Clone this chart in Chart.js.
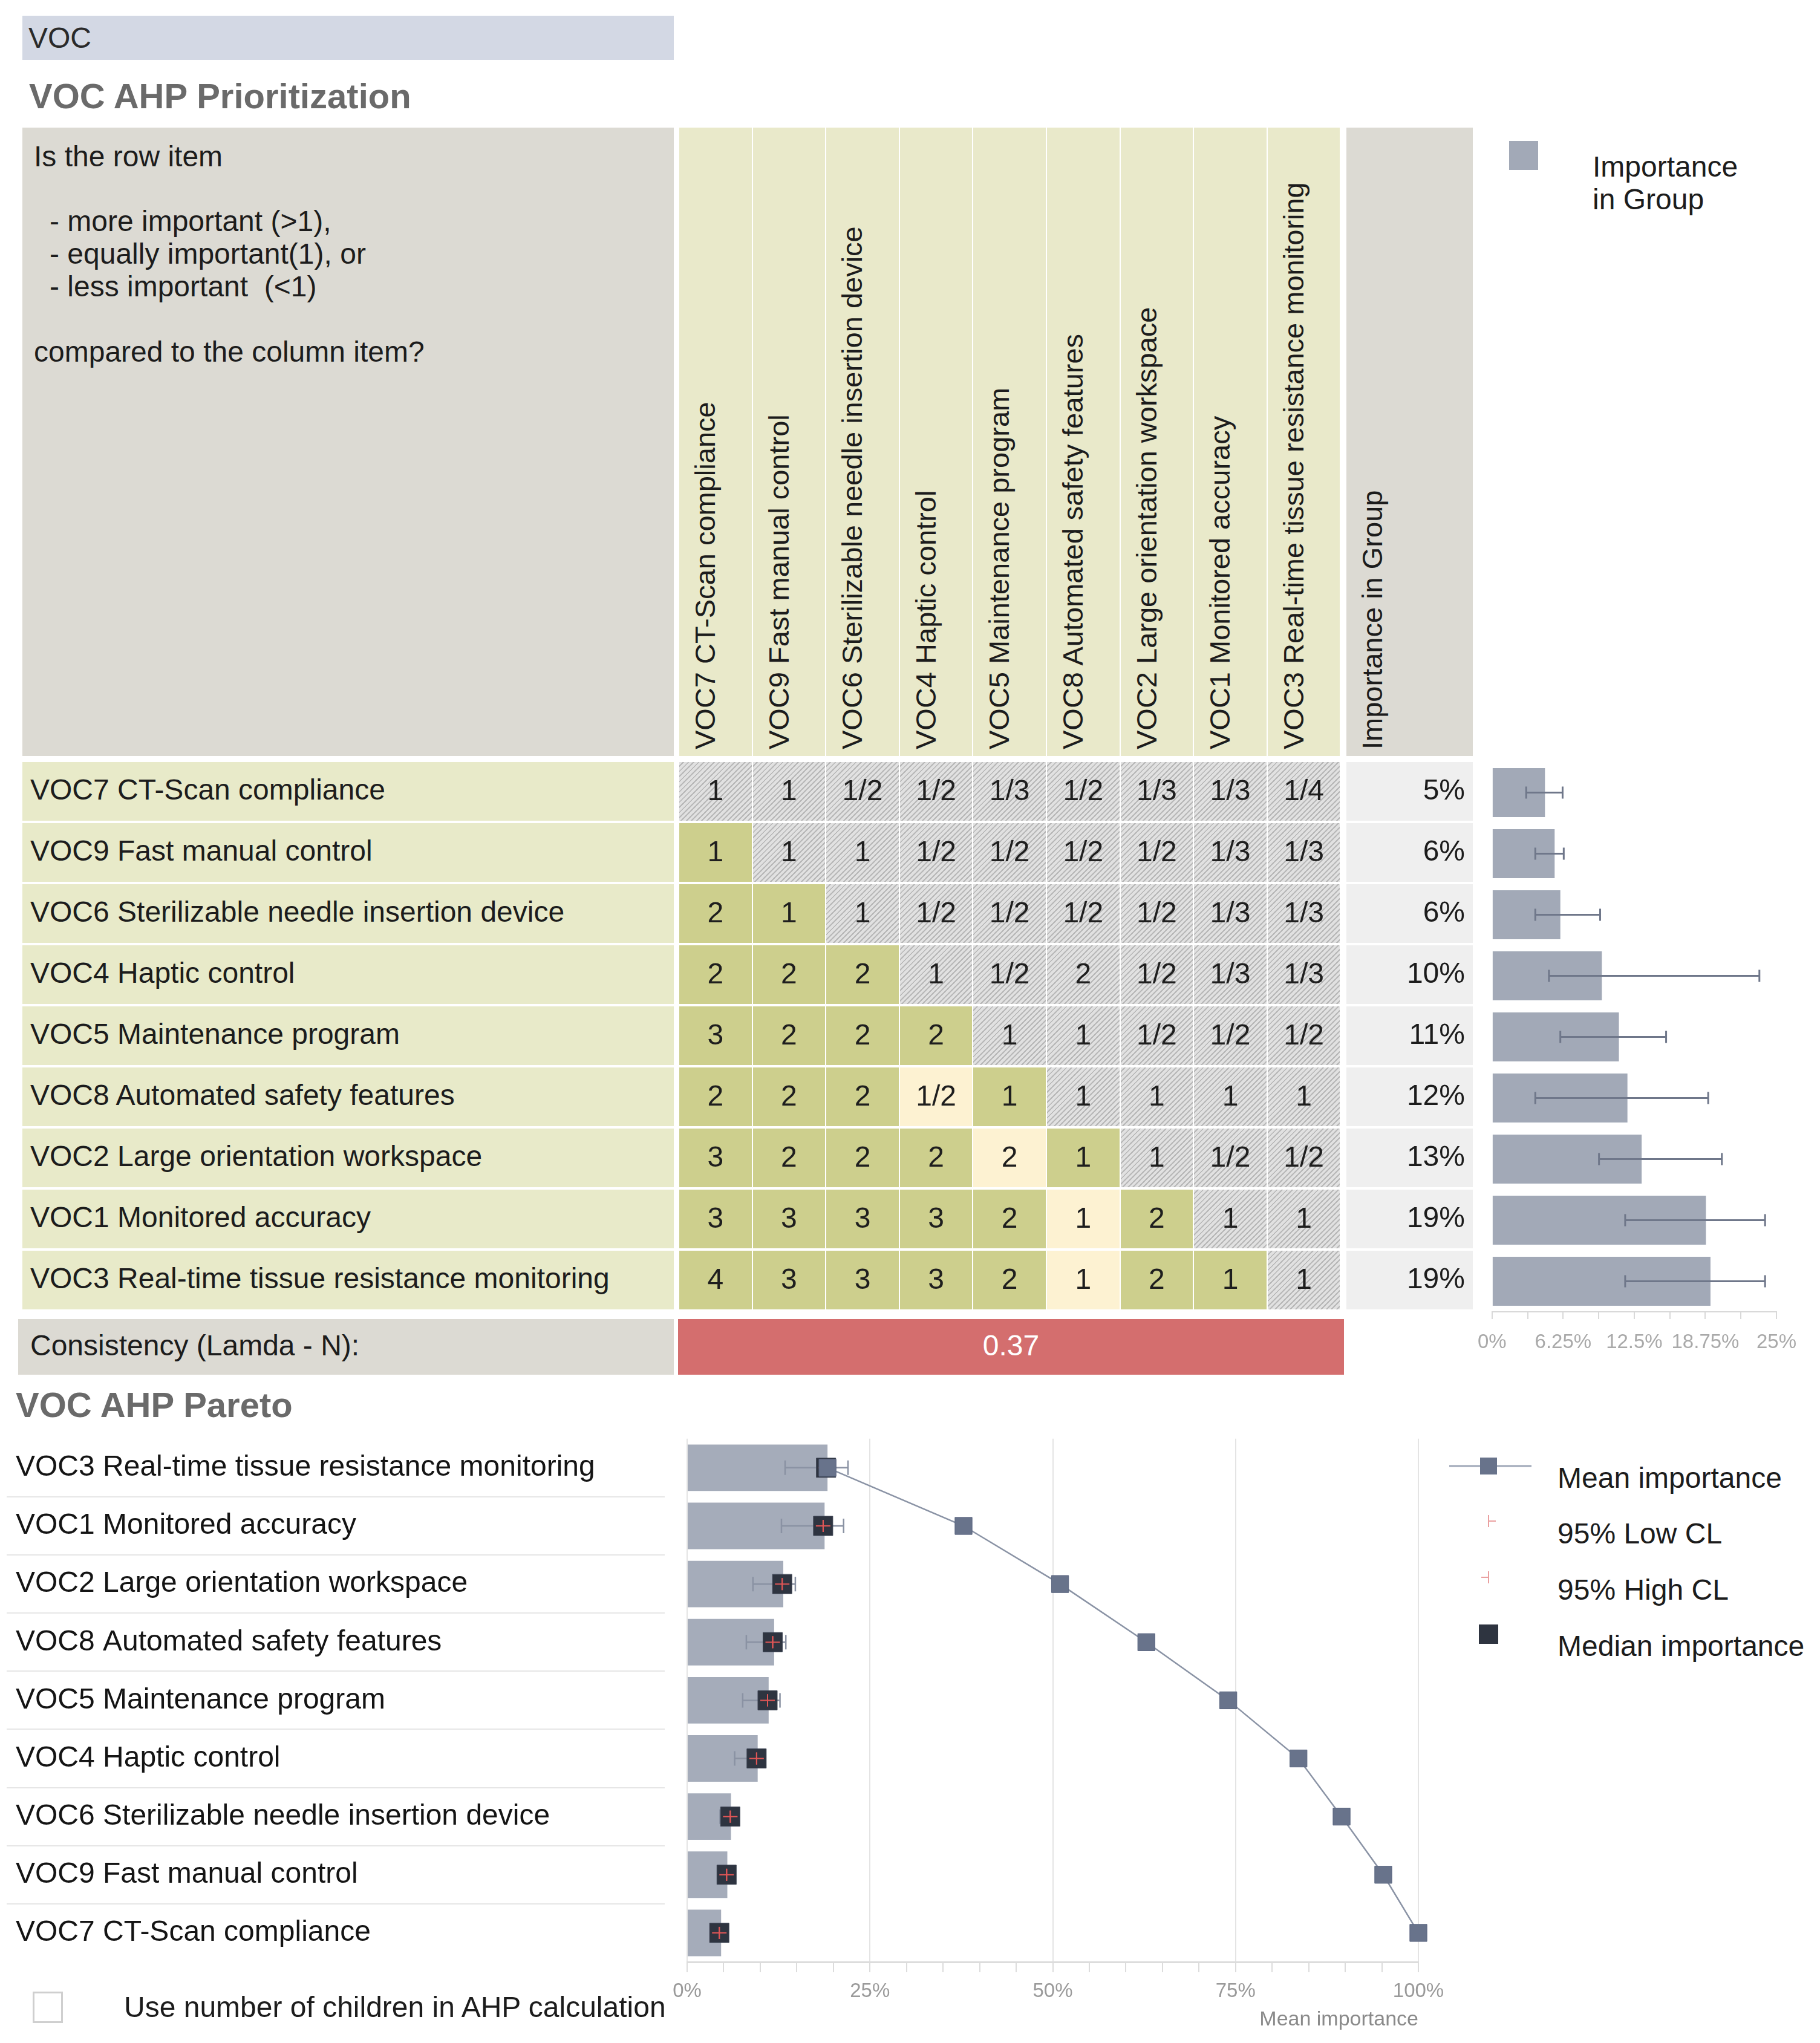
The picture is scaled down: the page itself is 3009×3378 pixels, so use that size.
<!DOCTYPE html>
<html>
<head>
<meta charset="utf-8">
<title>VOC AHP</title>
<script src="https://cdn.jsdelivr.net/npm/chart.js@4.4.1/dist/chart.umd.min.js"></script>
<style>
html, body { margin: 0; padding: 0; background: #fff; }
#page { position: relative; width: 3009px; height: 3378px; overflow: hidden;
  font-family: "Liberation Sans", Arial, Helvetica, sans-serif; font-size: 48px; color: #1c1c1c; }
#page div, #page canvas, #page svg { position: absolute; }
#vocBar { left: 37px; top: 26px; width: 1077px; height: 73px; background: #d3d8e4;
  line-height: 73px; padding-left: 10px; box-sizing: border-box; color: #2a2a2a; }
.title { font-weight: bold; font-size: 58px; line-height: 64px; color: #6a6a6a; white-space: nowrap; }
#question { left: 37px; top: 211px; width: 1077px; height: 1039px; background: #dcdad3; }
.q { line-height: 52px; white-space: nowrap; }
.colhead { top: 211px; height: 1039px; background: #e9e9ca; }
#impHead { left: 2226px; top: 211px; width: 209px; height: 1039px; background: #dcdad3; }
.rot { left: 18px; top: 1028px; transform-origin: 0 0; transform: rotate(-90deg);
  white-space: nowrap; line-height: 50px; font-size: 47px; }
.rowlabel { left: 37px; width: 1077px; height: 97px; line-height: 92px; background: #e8eac9;
  padding-left: 13px; box-sizing: border-box; white-space: nowrap; }
.cell { width: 119.6px; height: 97px; line-height: 94px; text-align: center; color: #1e1e1e; }
.hatch { background: repeating-linear-gradient(135deg, #e1e1e1 0px, #e1e1e1 4px, #b8b8b8 4px, #b8b8b8 6px); }
.green { background: #cdcf8d; }
.cream { background: #fdf2d2; }
.pct { left: 2226px; width: 209px; height: 97px; line-height: 92px; background: #efefef;
  text-align: right; padding-right: 13px; box-sizing: border-box; }
#consLabel { left: 30px; top: 2181px; width: 1084px; height: 92px; line-height: 88px; background: #dcdad3;
  padding-left: 20px; box-sizing: border-box; }
#consValue { left: 1121px; top: 2181px; width: 1101px; height: 92px; line-height: 88px; background: #d46e6e;
  color: #fff; text-align: center; }
#impLegendBox { left: 2495px; top: 233px; width: 48px; height: 48px; background: #a2a9b7; }
#impLegendText { left: 2633px; top: 249px; line-height: 54px; }
.leg { left: 2575px; line-height: 56px; white-space: nowrap; }
#checkbox { left: 54px; top: 3293px; width: 50px; height: 52px; border: 3px solid #cfcfcf;
  background: #fff; box-sizing: border-box; }
#checkText { left: 205px; top: 3291px; line-height: 56px; white-space: nowrap; }
#importanceChart { left: 2424px; top: 1260px; }
#paretoChart { left: 0px; top: 2350px; }
</style>
</head>
<body>
<div id="page">
  <div id="vocBar">VOC</div>
  <div class="title" style="left:48px; top:127px;">VOC AHP Prioritization</div>
  <div id="question">
    <div class="q" style="left:19px; top:22px;">Is the row item</div>
    <div class="q" style="left:45px; top:129px;">- more important (&gt;1),</div>
    <div class="q" style="left:45px; top:183px;">- equally important(1), or</div>
    <div class="q" style="left:45px; top:237px;">- less important &nbsp;(&lt;1)</div>
    <div class="q" style="left:19px; top:345px;">compared to the column item?</div>
  </div>
  <div id="impHead"><div class="rot">Importance in Group</div></div>
  <div id="consLabel">Consistency (Lamda - N):</div>
  <div id="consValue"></div>
  <div id="impLegendBox"></div>
  <div id="impLegendText">Importance<br>in Group</div>
  <canvas id="importanceChart" width="585" height="999"></canvas>

  <div class="title" style="left:26px; top:2291px;">VOC AHP Pareto</div>
  <canvas id="paretoChart" width="2400" height="1014"></canvas>
  <svg style="left:2390px; top:2390px;" width="160" height="360">
    <line x1="6" y1="34" x2="142" y2="34" stroke="#a0a8b8" stroke-width="3"/>
    <rect x="57" y="20" width="28" height="28" fill="#68738b"/>
    <line x1="71" y1="115" x2="71" y2="135" stroke="#eaa0a0" stroke-width="2"/>
    <line x1="71" y1="125" x2="83" y2="125" stroke="#eaa0a0" stroke-width="2"/>
    <line x1="71" y1="208" x2="71" y2="228" stroke="#eaa0a0" stroke-width="2"/>
    <line x1="59" y1="218" x2="71" y2="218" stroke="#eaa0a0" stroke-width="2"/>
    <rect x="55" y="296" width="32" height="32" fill="#2e3440"/>
  </svg>
  <div class="leg" style="top:2416px;">Mean importance</div>
  <div class="leg" style="top:2508px;">95% Low CL</div>
  <div class="leg" style="top:2601px;">95% High CL</div>
  <div class="leg" style="top:2694px;">Median importance</div>
  <div id="checkbox"></div>
  <div id="checkText">Use number of children in AHP calculation</div>
</div>

<script>
const vocs = [
    "VOC7 CT-Scan compliance",
    "VOC9 Fast manual control",
    "VOC6 Sterilizable needle insertion device",
    "VOC4 Haptic control",
    "VOC5 Maintenance program",
    "VOC8 Automated safety features",
    "VOC2 Large orientation workspace",
    "VOC1 Monitored accuracy",
    "VOC3 Real-time tissue resistance monitoring",
];

// row item compared to column item
const comparisons = [
    ["1", "1", "1/2", "1/2", "1/3", "1/2", "1/3", "1/3", "1/4"],
    ["1", "1", "1", "1/2", "1/2", "1/2", "1/2", "1/3", "1/3"],
    ["2", "1", "1", "1/2", "1/2", "1/2", "1/2", "1/3", "1/3"],
    ["2", "2", "2", "1", "1/2", "2", "1/2", "1/3", "1/3"],
    ["3", "2", "2", "2", "1", "1", "1/2", "1/2", "1/2"],
    ["2", "2", "2", "1/2", "1", "1", "1", "1", "1"],
    ["3", "2", "2", "2", "2", "1", "1", "1/2", "1/2"],
    ["3", "3", "3", "3", "2", "1", "2", "1", "1"],
    ["4", "3", "3", "3", "2", "1", "2", "1", "1"],
];

// [row, column] of the pale cells
const flaggedCells = [[5, 3], [6, 4], [7, 5], [8, 5]];

const consistency = 0.37;

// importance in group, same order as vocs (percent)
const importance = [4.65, 5.5, 6.0, 9.65, 11.15, 11.9, 13.15, 18.8, 19.2];
const rangeLow = [3.0, 3.8, 3.8, 5.0, 6.0, 3.8, 9.4, 11.7, 11.7];
const rangeHigh = [6.2, 6.3, 9.5, 23.5, 15.3, 19.0, 20.2, 24.0, 24.0];
const importanceTicks = [0, 6.25, 12.5, 18.75, 25];

// pareto, highest first
const paretoLabels = vocs.slice().reverse();
const paretoMean = [19.2, 18.8, 13.15, 11.9, 11.15, 9.65, 6.0, 5.5, 4.65];
const paretoCumulative = [19.2, 37.8, 51.0, 62.8, 74.0, 83.6, 89.5, 95.2, 100];
const paretoMedian = [19.0, 18.6, 13.0, 11.7, 11.0, 9.5, 5.9, 5.4, 4.4];
const lowCL = [19.0, 18.6, 13.0, 11.7, 11.0, 9.5, 5.9, 5.4, 4.4];
const highCL = [19.0, 18.6, 13.0, 11.7, 11.0, 9.5, 5.9, 5.4, 4.4];
const whiskerLow = [13.4, 12.9, 9.0, 8.1, 7.6, 6.5, 4.5, 4.6, 3.7];
const whiskerHigh = [22.0, 21.4, 14.8, 13.5, 12.7, 10.3, 6.4, 6.1, 5.1];
const paretoTicks = [0, 25, 50, 75, 100];

Chart.defaults.font.family = '"Liberation Sans", Arial, Helvetica, sans-serif';

// ---- matrix table ----
const page = document.getElementById("page");
const gridLeft = 1123, colStep = 121.6, rowTop = 1260, rowStep = 101;

function box(cls, left, top, text) {
    const d = document.createElement("div");
    d.className = cls;
    if (left !== null) d.style.left = left + "px";
    if (top !== null) d.style.top = top + "px";
    if (text !== undefined) d.textContent = text;
    page.appendChild(d);
    return d;
}

vocs.forEach((name, c) => {
    const h = box("colhead", gridLeft + c * colStep, null);
    h.style.width = "119.6px";
    const t = document.createElement("div");
    t.className = "rot";
    t.textContent = name;
    h.appendChild(t);
});

const isFlagged = (r, c) => flaggedCells.some(p => p[0] === r && p[1] === c);

comparisons.forEach((row, r) => {
    const top = rowTop + r * rowStep;
    box("rowlabel", null, top, vocs[r]);
    row.forEach((val, c) => {
        const kind = c >= r ? "hatch" : (isFlagged(r, c) ? "cream" : "green");
        box("cell " + kind, gridLeft + c * colStep, top, val);
    });
    box("pct", null, top, Math.round(importance[r]) + "%");
});

document.getElementById("consValue").textContent = consistency.toFixed(2);

// ---- error bar helper ----
function whiskers(datasetIndex, low, high, color, width, cap) {
    return {
        id: "whiskers" + datasetIndex,
        afterDatasetDraw(chart, args) {
            if (args.index !== datasetIndex) return;
            const {ctx, scales: {x, y}} = chart;
            ctx.save();
            ctx.strokeStyle = color;
            ctx.lineWidth = width;
            low.forEach((lo, i) => {
                const py = y.getPixelForValue(i);
                const x1 = x.getPixelForValue(lo);
                const x2 = x.getPixelForValue(high[i]);
                ctx.beginPath();
                ctx.moveTo(x1, py); ctx.lineTo(x2, py);
                ctx.moveTo(x1, py - cap); ctx.lineTo(x1, py + cap);
                ctx.moveTo(x2, py - cap); ctx.lineTo(x2, py + cap);
                ctx.stroke();
            });
            ctx.restore();
        }
    };
}

// ---- importance in group ----
new Chart(document.getElementById("importanceChart").getContext("2d"), {
    type: "bar",
    data: {
        labels: vocs,
        datasets: [{
            data: importance,
            backgroundColor: "#a2a9b7",
            barPercentage: 0.8,
            categoryPercentage: 1,
        }],
    },
    options: {
        indexAxis: "y",
        responsive: false,
        devicePixelRatio: 1,
        animation: false,
        events: [],
        layout: { padding: { left: 0, right: 72, top: 0, bottom: 0 } },
        plugins: { legend: { display: false }, tooltip: { enabled: false } },
        scales: {
            y: { type: "category", display: false, offset: true },
            x: {
                type: "linear", min: 0, max: 25,
                ticks: {
                    stepSize: 3.125, autoSkip: false, maxRotation: 0, padding: 19,
                    color: "#a9a9a9", font: { size: 33 },
                    callback: v => importanceTicks.includes(v) ? v + "%" : "",
                },
                grid: { drawOnChartArea: false, tickLength: 12, color: "#d9d9d9", lineWidth: 2 },
                border: { color: "#d9d9d9", width: 2 },
                afterFit: s => { s.height = 90; },
            },
        },
    },
    plugins: [whiskers(0, rangeLow, rangeHigh, "#6f778a", 3, 10)],
});

// ---- pareto ----
function clMarker(dir) {
    const c = document.createElement("canvas");
    c.width = 26; c.height = 26;
    const g = c.getContext("2d");
    g.strokeStyle = "#e05656";
    g.lineWidth = 2;
    g.beginPath();
    g.moveTo(13, 3); g.lineTo(13, 23);
    g.moveTo(13, 13); g.lineTo(dir > 0 ? 25 : 1, 13);
    g.stroke();
    return c;
}

const rowLines = {
    id: "rowLines",
    afterDraw(chart) {
        const {ctx, scales: {y}} = chart;
        ctx.save();
        ctx.strokeStyle = "#e6e6e6";
        ctx.lineWidth = 2;
        for (let i = 1; i < paretoLabels.length; i++) {
            const py = Math.round((y.getPixelForValue(i - 1) + y.getPixelForValue(i)) / 2);
            ctx.beginPath();
            ctx.moveTo(11, py);
            ctx.lineTo(1099, py);
            ctx.stroke();
        }
        ctx.restore();
    }
};

new Chart(document.getElementById("paretoChart").getContext("2d"), {
    type: "bar",
    data: {
        labels: paretoLabels,
        datasets: [
            {
                type: "line", label: "Mean importance", data: paretoCumulative, indexAxis: "y",
                borderColor: "#8a93a5", borderWidth: 2.5,
                pointStyle: "rect", pointRadius: 20,
                pointBackgroundColor: "#68738b", pointBorderColor: "#5b6680", pointBorderWidth: 1,
                clip: false, order: 0,
            },
            {
                type: "line", label: "95% High CL", data: highCL, indexAxis: "y",
                showLine: false, pointStyle: clMarker(-1), clip: false, order: 1,
            },
            {
                type: "line", label: "95% Low CL", data: lowCL, indexAxis: "y",
                showLine: false, pointStyle: clMarker(1), clip: false, order: 2,
            },
            {
                type: "line", label: "Median importance", data: paretoMedian, indexAxis: "y",
                showLine: false, pointStyle: "rect", pointRadius: 22.6,
                pointBackgroundColor: "#2e3440", pointBorderColor: "#3a4150", pointBorderWidth: 1,
                clip: false, order: 3,
            },
            {
                type: "bar", label: "Mean importance (bar)", data: paretoMean,
                backgroundColor: "#a5acba", barPercentage: 0.8, categoryPercentage: 1, order: 4,
            },
        ],
    },
    options: {
        indexAxis: "y",
        responsive: false,
        devicePixelRatio: 1,
        animation: false,
        events: [],
        layout: { padding: { left: 26, right: 55, top: 26, bottom: 0 } },
        plugins: { legend: { display: false }, tooltip: { enabled: false } },
        scales: {
            y: {
                type: "category", offset: true,
                ticks: { crossAlign: "far", padding: 0, color: "#141414", font: { size: 48 } },
                grid: { display: false },
                border: { display: false },
                afterFit: s => { s.width = 1110; },
            },
            x: {
                type: "linear", min: 0, max: 100,
                ticks: {
                    stepSize: 5, autoSkip: false, maxRotation: 0, padding: 12,
                    color: "#9a9a9a", font: { size: 33 },
                    callback: v => paretoTicks.includes(v) ? v + "%" : "",
                },
                grid: {
                    color: c => (c.tick && paretoTicks.includes(c.tick.value)) ? "#e4e4e4" : "rgba(0,0,0,0)",
                    tickColor: "#dcdcdc", tickLength: 17, lineWidth: 2,
                },
                border: { color: "#dcdcdc", width: 3 },
                title: {
                    display: true, text: "Mean importance", align: "end",
                    color: "#8a8a8a", font: { size: 34 }, padding: { top: 6, bottom: 4 },
                },
                afterFit: s => { s.height = 120; },
            },
        },
    },
    plugins: [whiskers(4, whiskerLow, whiskerHigh, "#8a92a3", 2.5, 12), rowLines],
});
</script>
</body>
</html>
